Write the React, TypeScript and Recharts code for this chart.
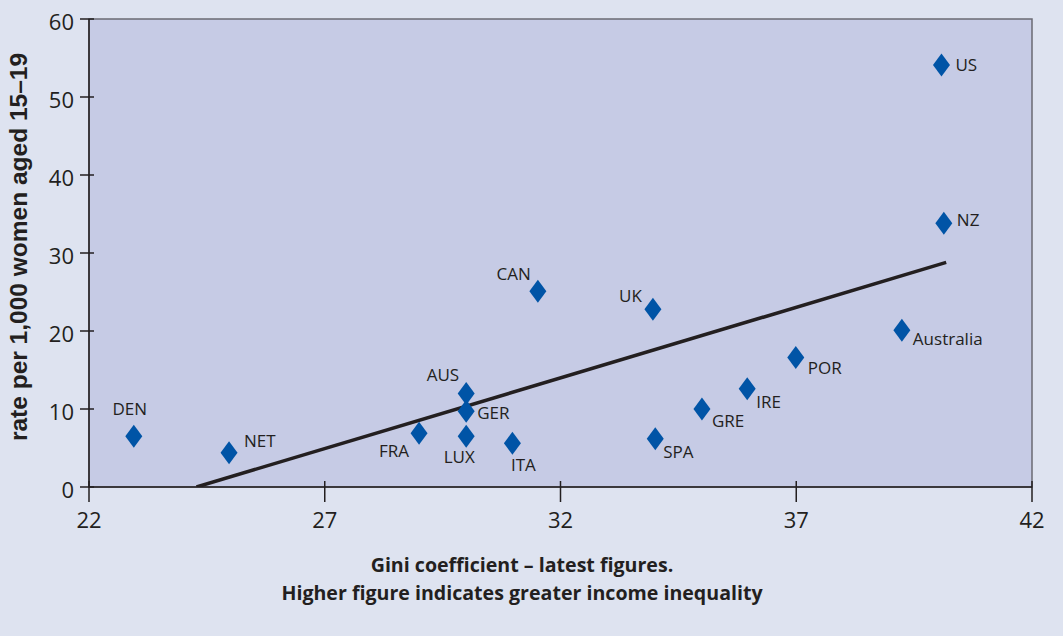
import { ScatterChart, Scatter, XAxis, YAxis, ReferenceArea } from "recharts"

// teenage birth rate vs income inequality
const countries = ["DEN", "NET", "FRA", "AUS", "GER", "LUX", "ITA", "CAN", "UK", "SPA", "GRE", "IRE", "POR", "Australia", "US", "NZ"]
const gini = [22.95, 24.97, 29.0, 30.0, 30.0, 30.0, 30.98, 31.52, 33.96, 34.01, 35.0, 35.96, 36.99, 39.24, 40.08, 40.13]
const birthRate = [6.5, 4.4, 6.9, 12.0, 9.7, 6.5, 5.6, 25.1, 22.8, 6.2, 10.0, 12.6, 16.6, 20.1, 54.1, 33.8]

const trendGini = [24.28, 40.18]
const trendRate = [0, 28.8]

const xTicks = [22, 27, 32, 37, 42]
const yTicks = [0, 10, 20, 30, 40, 50, 60]

const points = countries.map((name, i) => ({ name, x: gini[i], y: birthRate[i] }))
const trend = trendGini.map((x, i) => ({ x, y: trendRate[i] }))

// label offset from marker centre: dx, dy, anchor
const LABEL_POS: Record<string, [number, number, "start" | "middle" | "end"]> = {
  DEN: [-4, -27, "middle"],
  NET: [15, -12, "start"],
  FRA: [-10, 18, "end"],
  AUS: [-7, -18, "end"],
  GER: [11, 2, "start"],
  LUX: [-7, 21, "middle"],
  ITA: [11, 22, "middle"],
  CAN: [-7, -17, "end"],
  UK: [-11, -13, "end"],
  SPA: [8, 13, "start"],
  GRE: [10, 12, "start"],
  IRE: [9, 13, "start"],
  POR: [12, 11, "start"],
  Australia: [11, 9, "start"],
  US: [14, 0, "start"],
  NZ: [13, -3, "start"],
}

const BG = "#dee3f0"
const PLOT_BG = "#c6cbe5"
const MARKER = "#0054a6"
const INK = "#231f20"
const FONT = "'Open Sans', sans-serif"

// eslint-disable-next-line @typescript-eslint/no-explicit-any
function Diamond(props: any) {
  const { cx, cy, payload } = props
  const [dx, dy, anchor] = LABEL_POS[payload.name] ?? [10, 0, "start"]
  return (
    <g>
      <path d={`M${cx},${cy - 11.5} L${cx + 8.5},${cy} L${cx},${cy + 11.5} L${cx - 8.5},${cy} Z`} fill={MARKER} />
      <text x={cx + dx} y={cy + dy} dy="0.35em" textAnchor={anchor} fontSize={17} fontFamily={FONT} fill={INK}>
        {payload.name}
      </text>
    </g>
  )
}

// eslint-disable-next-line @typescript-eslint/no-explicit-any
function XTick(props: any) {
  const { x, y, payload } = props
  return (
    <g>
      <line x1={x} x2={x} y1={y - 8} y2={y + 13} stroke={INK} strokeWidth={1.5} />
      <text x={x} y={y + 31} dy="0.35em" textAnchor="middle" fontSize={22} fontFamily={FONT} fill={INK}>
        {payload.value}
      </text>
    </g>
  )
}

// eslint-disable-next-line @typescript-eslint/no-explicit-any
function YTick(props: any) {
  const { x, y, payload } = props
  return (
    <g>
      <line x1={x - 7} x2={x + 7} y1={y} y2={y} stroke={INK} strokeWidth={1.5} />
      <text x={x - 13} y={y + 3} dy="0.35em" textAnchor="end" fontSize={22} fontFamily={FONT} fill={INK}>
        {payload.value}
      </text>
    </g>
  )
}

export default function App() {
  return (
    <div style={{ position: "fixed", left: 0, top: 0, width: 1063, height: 636, background: BG }}>
      <ScatterChart width={1063} height={636} margin={{ top: 19, right: 31, bottom: 109, left: 29 }}>
        <ReferenceArea x1={22} x2={42} y1={0} y2={60} fill={PLOT_BG} fillOpacity={1} stroke="#6b6b73" strokeWidth={1.5} />
        <XAxis
          type="number"
          dataKey="x"
          domain={[22, 42]}
          ticks={xTicks}
          height={40}
          tickSize={0}
          tickLine={false}
          tick={<XTick />}
          axisLine={{ stroke: INK, strokeWidth: 1.5 }}
          allowDataOverflow
          label={{
            content: () => (
              <text textAnchor="middle" fontSize={19.6} fontWeight="bold" fontFamily={FONT} fill={INK}>
                <tspan x={522} y={572}>Gini coefficient – latest figures.</tspan>
                <tspan x={522} y={600}>Higher figure indicates greater income inequality</tspan>
              </text>
            ),
          }}
        />
        <YAxis
          type="number"
          dataKey="y"
          domain={[0, 60]}
          ticks={yTicks}
          width={60}
          tickSize={0}
          tickLine={false}
          tick={<YTick />}
          axisLine={{ stroke: INK, strokeWidth: 1.5 }}
          allowDataOverflow
          label={{
            content: () => (
              <text
                x={27}
                y={247}
                transform="rotate(-90 27 247)"
                textAnchor="middle"
                fontSize={24.5}
                fontWeight="bold"
                fontFamily="'Liberation Sans', Arial, sans-serif"
                fill={INK}
              >
                rate per 1,000 women aged 15–19
              </text>
            ),
          }}
        />
        <Scatter data={trend} line={{ stroke: INK, strokeWidth: 3.5 }} shape={() => <g />} isAnimationActive={false} />
        <Scatter data={points} shape={<Diamond />} isAnimationActive={false} />
      </ScatterChart>
    </div>
  )
}
